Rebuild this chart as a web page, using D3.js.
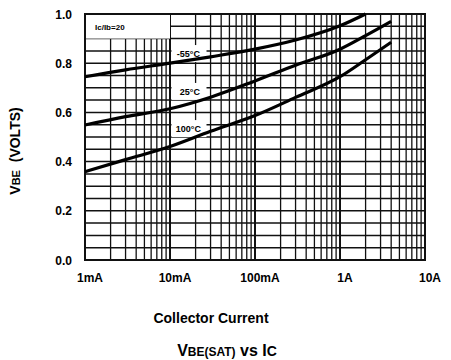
<!DOCTYPE html>
<html>
<head>
<meta charset="utf-8">
<script src="https://cdn.jsdelivr.net/npm/d3@7"></script>
<style>
  body { margin: 0; background: #fff; }
  svg { display: block; font-family: "Liberation Sans", Arial, sans-serif; }
</style>
</head>
<body>
<div id="chart"></div>
<script>
// collector current in mA, VBE in volts
var currents = [1, 3, 10, 30, 100, 300, 1000, 2000, 4000];
var vbeM55 = [0.745, 0.773, 0.800, 0.826, 0.857, 0.894, 0.952, 1.0];
var vbe25 = [0.549, 0.583, 0.615, 0.662, 0.728, 0.792, 0.857, 0.912, 0.970];
var vbe100 = [0.359, 0.408, 0.461, 0.523, 0.587, 0.661, 0.745, 0.814, 0.885];
var seriesNames = ["-55°C", "25°C", "100°C"];
// label anchors (mA, volts)
var labelCurrent = 10.5;
var labelVolts = [0.825, 0.671, 0.52];

var xTickValues = [1, 10, 100, 1000, 10000];
var xTickLabels = ["1mA", "10mA", "100mA", "1A", "10A"];
var yTickValues = [0, 0.2, 0.4, 0.6, 0.8, 1.0];

var width = 451, height = 360;
var margin = {top: 14, right: 26, bottom: 100, left: 85};

var x = d3.scaleLog().domain([1, 10000]).range([margin.left, width - margin.right]);
var y = d3.scaleLinear().domain([0, 1]).range([height - margin.bottom, margin.top]);

var svg = d3.select("#chart").append("svg")
  .attr("width", width)
  .attr("height", height);

svg.append("rect").attr("width", width).attr("height", height).attr("fill", "#fff");

var grid = svg.append("g").attr("class", "grid");

// vertical log grid
var vLines = [];
for (var dec = 1; dec < 10000; dec *= 10) {
  for (var m = 1; m < 10; m++) vLines.push(dec * m);
}
vLines.push(10000);

grid.selectAll(".vline")
  .data(vLines)
  .enter().append("line")
  .attr("x1", d => x(d)).attr("x2", d => x(d))
  .attr("y1", y(0)).attr("y2", y(1))
  .attr("stroke", "#111")
  .attr("stroke-width", d => (Math.log10(d) % 1 === 0) ? 2 : 1.3);

// horizontal grid every 0.05
grid.selectAll(".hline")
  .data(d3.range(0, 21).map(i => i * 0.05))
  .enter().append("line")
  .attr("x1", x(1)).attr("x2", x(10000))
  .attr("y1", d => y(d)).attr("y2", d => y(d))
  .attr("stroke", "#111")
  .attr("stroke-width", 1.5);

// condition box
svg.append("rect")
  .attr("x", x(1)).attr("y", y(1))
  .attr("width", x(10) - x(1)).attr("height", y(0.9) - y(1))
  .attr("fill", "#fff");
svg.append("text")
  .attr("x", x(1) + 10).attr("y", y(1) + 16)
  .attr("font-size", 8).attr("font-weight", "bold")
  .text("Ic/Ib=20");

// white patches behind the curve labels
labelVolts.forEach(function(v, i) {
  svg.append("rect")
    .attr("x", x(10) + 1.5).attr("y", y(v) - 12)
    .attr("width", x(28) - x(10) - 3).attr("height", 17)
    .attr("fill", "#fff");
});

// frame
svg.append("rect")
  .attr("x", x(1)).attr("y", y(1))
  .attr("width", x(10000) - x(1)).attr("height", y(0) - y(1))
  .attr("fill", "none").attr("stroke", "#111").attr("stroke-width", 2);

// curves
var seriesValues = [vbeM55, vbe25, vbe100];
var lineGenerator = d3.line()
  .x(d => x(d[0]))
  .y(d => y(d[1]))
  .curve(d3.curveMonotoneX);

svg.selectAll(".curve")
  .data(seriesValues)
  .enter().append("path")
  .attr("class", "curve")
  .attr("d", vals => lineGenerator(vals.map((v, i) => [currents[i], v])))
  .attr("fill", "none")
  .attr("stroke", "#000")
  .attr("stroke-width", 3.2);

svg.selectAll(".curve-label")
  .data(seriesNames)
  .enter().append("text")
  .attr("x", (d, i) => x(labelCurrent) + (i === 1 ? 8 : (i === 0 ? 5 : 4)))
  .attr("y", (d, i) => y(labelVolts[i]))
  .attr("font-size", 9).attr("font-weight", "bold")
  .text(d => d);

// y tick labels
svg.selectAll(".ytick")
  .data(yTickValues)
  .enter().append("text")
  .attr("x", 72).attr("y", d => y(d) + 4.5)
  .attr("text-anchor", "end")
  .attr("font-size", 12).attr("font-weight", "bold")
  .text(d => d3.format(".1f")(d));

// x tick labels
svg.selectAll(".xtick")
  .data(xTickValues)
  .enter().append("text")
  .attr("x", d => x(d) + 5).attr("y", height - margin.bottom + 22)
  .attr("text-anchor", "middle")
  .attr("font-size", 12).attr("font-weight", "bold")
  .text((d, i) => xTickLabels[i]);

// axis titles
svg.append("text")
  .attr("x", 211).attr("y", 323)
  .attr("text-anchor", "middle")
  .attr("font-size", 14).attr("font-weight", "bold")
  .text("Collector Current");

var yTitle = svg.append("text")
  .attr("transform", "translate(20,151) rotate(-90)")
  .attr("text-anchor", "middle")
  .attr("font-size", 14).attr("font-weight", "bold");
yTitle.append("tspan").text("V");
yTitle.append("tspan").attr("font-size", 11).text("BE");
yTitle.append("tspan").text("  (VOLTS)").attr("xml:space", "preserve").style("white-space", "pre");

var title = svg.append("text")
  .attr("x", 227).attr("y", 356)
  .attr("text-anchor", "middle")
  .attr("font-size", 16).attr("font-weight", "bold");
title.append("tspan").text("V");
title.append("tspan").attr("font-size", 12).text("BE(SAT)");
title.append("tspan").text(" vs I");
title.append("tspan").attr("font-size", 14).text("C");
</script>
</body>
</html>
